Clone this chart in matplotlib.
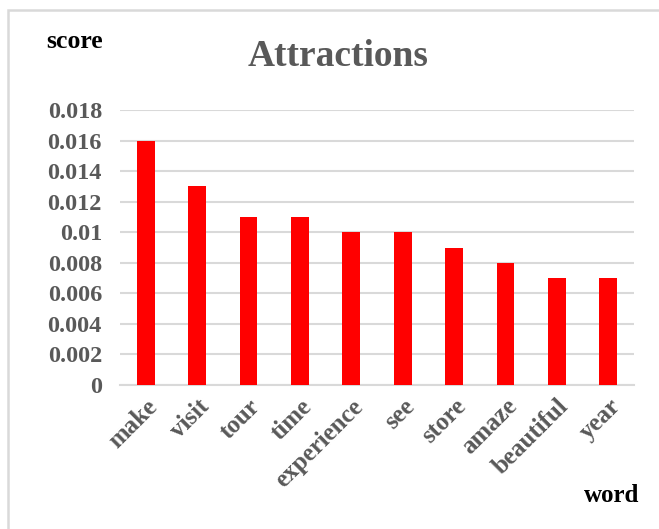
import matplotlib
matplotlib.use("Agg")
import matplotlib.pyplot as plt
from matplotlib.patches import Rectangle

words = ["make", "visit", "tour", "time", "experience", "see", "store",
         "amaze", "beautiful", "year"]
scores = [0.016, 0.013, 0.011, 0.011, 0.010, 0.010, 0.009, 0.008, 0.007, 0.007]
y_ticks = [0, 0.002, 0.004, 0.006, 0.008, 0.01, 0.012, 0.014, 0.016, 0.018]
y_tick_labels = ["0", "0.002", "0.004", "0.006", "0.008", "0.01", "0.012",
                 "0.014", "0.016", "0.018"]

plt.rcParams["font.family"] = ["Liberation Serif", "DejaVu Serif"]
plt.rcParams["font.weight"] = "bold"

W, H = 659, 529
fig = plt.figure(figsize=(W / 100, H / 100), dpi=100)
ax = fig.add_axes([120 / W, 1 - 385 / H, (634 - 120) / W, (385 - 110) / H])

gray_text = "#595959"
grid_col = "#d9d9d9"

x = range(len(words))
ax.bar(x, scores, width=0.35, color="#ff0000", zorder=3)

ax.set_xlim(-0.5, len(words) - 0.5)
ax.set_ylim(0, 0.018)
ax.set_yticks(y_ticks)
ax.set_yticklabels(y_tick_labels, fontsize=17.5, fontweight="bold", color=gray_text)
ax.set_xticks(list(x))
ax.set_xticklabels(words, rotation=45, ha="right", rotation_mode="anchor",
                   fontsize=18, fontweight="bold", color=gray_text)
ax.tick_params(axis="y", length=0, pad=13)
ax.tick_params(axis="x", length=0, pad=7)

ax.grid(axis="y", color=grid_col, linewidth=1.5, zorder=0)
for side in ["top", "right", "left"]:
    ax.spines[side].set_visible(False)
ax.spines["bottom"].set_color(grid_col)
ax.spines["bottom"].set_linewidth(1.5)

fig.text(338 / W, 1 - 57 / H, "Attractions", ha="center", va="center",
         fontsize=27, fontweight="bold", color=gray_text)
fig.text(75 / W, 1 - 42 / H, "score", ha="center", va="center",
         fontsize=18.5, fontweight="bold", color="black")
fig.text(612 / W, 1 - 496 / H, "word", ha="center", va="center",
         fontsize=18, fontweight="bold", color="black")

# outer chart frame (extends past right and bottom edges)
fig.add_artist(Rectangle((8 / W, -0.2), 1.2, (1 - 10 / H) + 0.2,
                         transform=fig.transFigure, fill=False,
                         edgecolor=grid_col, linewidth=1.8))

fig.savefig("out.png", dpi=100, facecolor="white")
